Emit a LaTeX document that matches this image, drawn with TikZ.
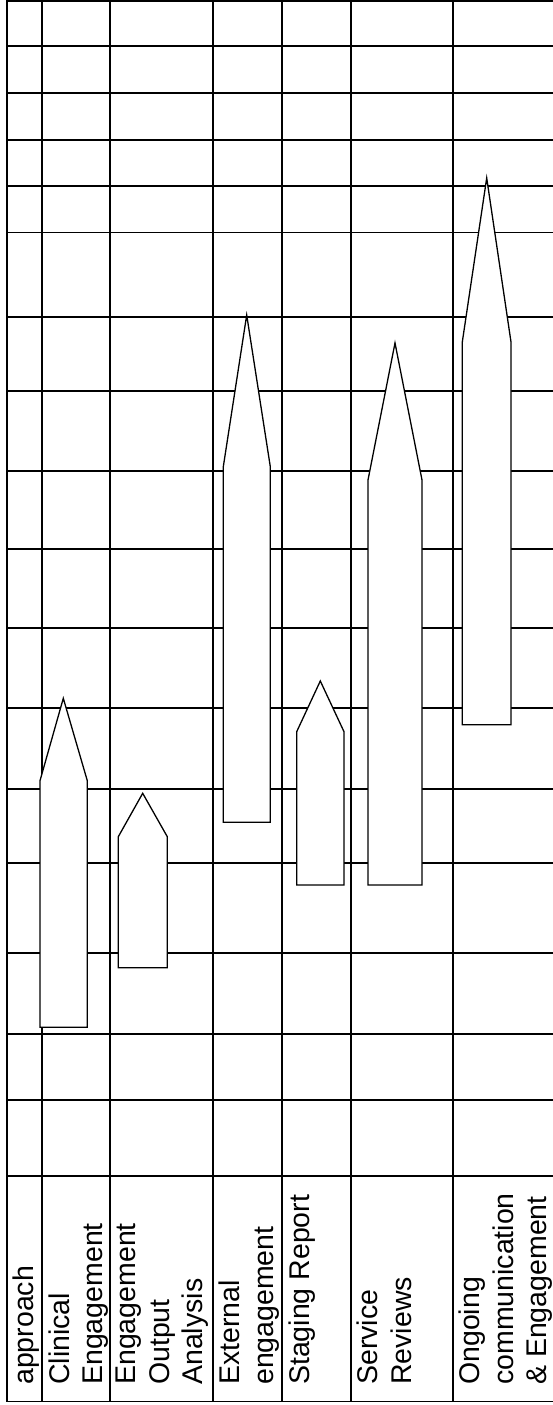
\documentclass[tikz,border=0pt]{standalone}
\usepackage{fontspec}
\setmainfont{Liberation Sans}
\usetikzlibrary{positioning}

\begin{document}
\begin{tikzpicture}[
    x=1pt, y=-1pt,
    grid/.style={line width=1.7pt, line cap=rect},
    bar/.style={draw, fill=white, line width=1.3pt, line join=miter},
    lbl/.style={rotate=90, anchor=north west, inner sep=0pt, align=left,
                font=\fontsize{28.5}{33.5}\selectfont}
]
\useasboundingbox (0,0) rectangle (553,1405);

% Table columns
\foreach \xc in {6.7,42.3,110,212.7,282.3,351,453}
    \draw[grid] (\xc,0.9) -- (\xc,1401.5);
% Table rows
\foreach \yr in {0.9,45.7,92.7,140,185.7,232.5,316.7,390.7,471,549,628,708,788.7,862.7,952.7,1034,1100,1176,1401.5}
    \draw[grid] (6.7,\yr) -- (553,\yr);

% Arrow bars
\draw[bar] (40,1027.3) -- (40,780.7) -- (63.3,698.3) -- (87.3,780.7) -- (87.3,1027.3) -- cycle;
\draw[bar] (118.3,967.7) -- (118.3,836.7) -- (142.7,793.3) -- (167.3,836.7) -- (167.3,967.7) -- cycle;
\draw[bar] (223.3,822.3) -- (223.3,466.7) -- (246.7,315) -- (270.3,466.7) -- (270.3,822.3) -- cycle;
\draw[bar] (296.7,885) -- (296.7,731.7) -- (320.3,681) -- (344,731.7) -- (344,885) -- cycle;
\draw[bar] (368,885) -- (368,480) -- (395,343) -- (422,480) -- (422,885) -- cycle;
\draw[bar] (462.3,724.7) -- (462.3,342) -- (486.7,178) -- (511,342) -- (511,724.7) -- cycle;

% Row labels
\node[lbl] (approach) at (12.7,1385) {approach};
\node[lbl] (clinical) at (48.3,1385) {Clinical\\Engagement};
\node[lbl] (output) at (116,1385) {Engagement\\Output\\Analysis};
\node[lbl] (external) at (218.7,1385) {External\\engagement};
\node[lbl] (staging) at (288.3,1385) {Staging Report};
\node[lbl] (service) at (357,1385) {Service\\Reviews};
\node[lbl] (ongoing) at (459,1385) {Ongoing\\communication\\\& Engagement};
\end{tikzpicture}
\end{document}
